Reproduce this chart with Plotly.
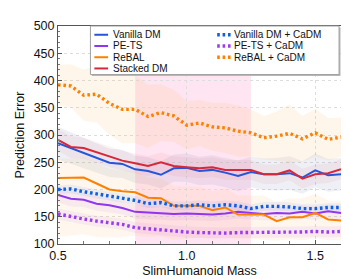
import plotly.graph_objects as go

# ---------------- data ----------------
mass = [0.5, 0.55, 0.6, 0.65, 0.7, 0.75, 0.8, 0.85, 0.9, 0.95, 1.0, 1.05,
        1.1, 1.15, 1.2, 1.25, 1.3, 1.35, 1.4, 1.45, 1.5, 1.55, 1.6]

vanilla_dm = [285, 276, 266, 257, 249, 247, 237, 234, 227, 239, 240, 234,
              236, 231, 225, 232, 228, 228, 230, 222, 235, 226, 228]
vanilla_dm_sd = [30, 29, 28, 27, 26, 26, 25, 25, 25, 25, 26, 26,
                 27, 27, 28, 28, 29, 30, 31, 30, 31, 30, 30]

pets = [190, 183, 181, 174, 171, 166, 159, 158, 157, 155, 156, 155,
        154, 156, 159, 157, 155, 157, 156, 159, 156, 160, 157]
pets_sd = [14, 14, 13, 13, 13, 12, 12, 12, 12, 12, 12, 12,
           12, 12, 12, 12, 12, 12, 12, 12, 12, 12, 12]

rebal = [221, 221, 222, 211, 200, 197, 195, 185, 184, 170, 170, 170,
         162, 167, 154, 154, 154, 142, 149, 149, 157, 145, 143]
rebal_hi = [36, 36, 37, 37, 38, 38, 38, 37, 36, 36, 35, 35,
            35, 35, 35, 35, 35, 35, 35, 35, 35, 35, 35]
rebal_lo = [108, 106, 104, 98, 88, 84, 80, 72, 70, 62, 60, 58,
            52, 55, 44, 44, 46, 36, 40, 42, 46, 38, 36]

stacked_dm = [291, 278, 276, 268, 260, 253, 248, 243, 250, 243, 241, 239,
              241, 236, 236, 236, 228, 228, 235, 220, 228, 230, 237]
stacked_dm_sd = [20, 20, 19, 19, 19, 18, 18, 18, 18, 18, 18, 18,
                 18, 18, 18, 18, 18, 18, 18, 18, 18, 18, 18]

vanilla_cadm = [200, 201, 196, 192, 188, 184, 180, 174, 176, 170, 170, 172,
                170, 172, 170, 165, 169, 169, 168, 165, 165, 167, 167]
vanilla_cadm_sd = [8, 8, 8, 8, 8, 8, 8, 8, 8, 8, 8, 8,
                   8, 8, 8, 8, 8, 8, 8, 8, 8, 8, 8]

pets_cadm = [155, 150, 146, 142, 139, 136, 130, 128, 125, 123, 122, 121,
             120, 120, 121, 121, 121, 121, 122, 122, 123, 122, 123]
pets_cadm_sd = [10, 10, 10, 10, 10, 10, 10, 10, 10, 10, 10, 10,
                10, 10, 10, 10, 10, 10, 10, 10, 10, 10, 10]

rebal_cadm = [392, 390, 373, 375, 358, 347, 347, 334, 341, 335, 318, 322,
              315, 313, 307, 304, 295, 298, 303, 293, 304, 292, 296]
rebal_cadm_sd = [37, 40, 47, 52, 58, 62, 62, 58, 52, 48, 44, 42,
                 44, 46, 47, 43, 40, 45, 53, 42, 44, 39, 36]

shift_range = [0.8, 1.25]

# ---------------- styles ----------------
FONT = "Arial, Liberation Sans, sans-serif"
series = [
    # name, values, upper offsets, lower offsets, line color, band color, dotted
    ("Vanilla DM", vanilla_dm, vanilla_dm_sd, vanilla_dm_sd, "#2456d9", "rgba(90,110,170,0.10)", False),
    ("PE-TS", pets, pets_sd, pets_sd, "#9035f0", "rgba(150,60,240,0.07)", False),
    ("ReBAL", rebal, rebal_hi, rebal_lo, "#ff8000", "rgba(255,170,60,0.09)", False),
    ("Stacked DM", stacked_dm, stacked_dm_sd, stacked_dm_sd, "#d62839", "rgba(214,40,57,0.06)", False),
    ("Vanilla DM + CaDM", vanilla_cadm, vanilla_cadm_sd, vanilla_cadm_sd, "#0f5ee6", "rgba(20,90,230,0.07)", True),
    ("PE-TS + CaDM", pets_cadm, pets_cadm_sd, pets_cadm_sd, "#9b3cf2", "rgba(150,60,240,0.07)", True),
    ("ReBAL + CaDM", rebal_cadm, rebal_cadm_sd, rebal_cadm_sd, "#ff8000", "rgba(255,185,90,0.12)", True),
]
DOT_DASH = "2.6px,2.8px"
DOT_W = 3.4

fig = go.Figure()

# confidence bands
for name, vals, hi, lo, col, band, dotted in series:
    upper = [v + h for v, h in zip(vals, hi)]
    lower = [v - l for v, l in zip(vals, lo)]
    fig.add_trace(go.Scatter(x=mass, y=upper, mode="lines", line=dict(width=0),
                             showlegend=False, hoverinfo="skip"))
    fig.add_trace(go.Scatter(x=mass, y=lower, mode="lines", line=dict(width=0),
                             fill="tonexty", fillcolor=band,
                             showlegend=False, hoverinfo="skip"))

# mean lines
for name, vals, hi, lo, col, band, dotted in series:
    if dotted:
        line = dict(color=col, width=DOT_W, dash=DOT_DASH)
    else:
        line = dict(color=col, width=2)
    fig.add_trace(go.Scatter(x=mass, y=vals, mode="lines", name=name, line=line,
                             showlegend=False))

# ---------------- layout ----------------
W, H = 349, 279
ML, MR, MT, MB = 45, 16, 11, 39
PW, PH = W - ML - MR, H - MT - MB


def px_x(p):
    return (p - ML) / PW


def px_y(p):
    return (H - MB - p) / PH


shapes = [
    dict(type="rect", xref="x", yref="paper", x0=shift_range[0], x1=shift_range[1],
         y0=0, y1=1, fillcolor="rgba(255,0,120,0.10)", line=dict(width=0), layer="below"),
]

# legend (two columns inside a common box)
box_l, box_r, box_t, box_b = 78, 331, 11, 62
shapes.append(dict(type="rect", xref="paper", yref="paper",
                   x0=px_x(box_l + 1.5), x1=px_x(box_r + 1.5),
                   y0=px_y(box_b + 1.5), y1=px_y(box_t + 1.5),
                   fillcolor="#b8b8b8", line=dict(width=0), layer="above"))
shapes.append(dict(type="rect", xref="paper", yref="paper",
                   x0=px_x(box_l), x1=px_x(box_r), y0=px_y(box_b), y1=px_y(box_t),
                   fillcolor="white", line=dict(color="#a0a0a0", width=1), layer="above"))

annotations = []
row0, row_gap = 20.2, 11.8
columns = [(82, 96, 99), (207, 221, 222)]
left_items = [s for s in series if not s[6]]
right_items = [s for s in series if s[6]]
for (s0, s1, tx), items in zip(columns, [left_items, right_items]):
    for i, (name, vals, hi, lo, col, band, dotted) in enumerate(items):
        yy = px_y(row0 + i * row_gap)
        if dotted:
            ln = dict(color=col, width=DOT_W, dash=DOT_DASH)
        else:
            ln = dict(color=col, width=2)
        shapes.append(dict(type="line", xref="paper", yref="paper",
                           x0=px_x(s0), x1=px_x(s1), y0=yy, y1=yy,
                           line=ln, layer="above"))
        annotations.append(dict(text=name, xref="paper", yref="paper",
                                x=px_x(tx), y=yy, xanchor="left", yanchor="middle",
                                showarrow=False, font=dict(family=FONT, size=10, color="#111")))

fig.update_layout(
    width=W, height=H,
    margin=dict(l=ML, r=MR, t=MT, b=MB, pad=0),
    paper_bgcolor="white", plot_bgcolor="white",
    font=dict(family=FONT, size=12.5, color="#111"),
    showlegend=False,
    shapes=shapes,
    annotations=annotations,
    xaxis=dict(
        range=[0.5, 1.6], tickvals=[0.5, 1.0, 1.5], ticktext=["0.5", "1.0", "1.5"],
        ticks="inside", ticklen=4, tickcolor="#555", tickwidth=1,
        minor=dict(dtick=0.1, tick0=0.5, ticks="inside", ticklen=3, tickcolor="#777", showgrid=False),
        showline=True, linecolor="#555", linewidth=1, mirror=True,
        showgrid=True, gridcolor="#dddddd", griddash="dot", gridwidth=1,
        zeroline=False,
        title=dict(text="SlimHumanoid Mass", font=dict(size=12.5), standoff=4),
        tickfont=dict(size=12.5),
    ),
    yaxis=dict(
        range=[100, 500], dtick=50, tick0=100,
        ticks="inside", ticklen=4, tickcolor="#555", tickwidth=1,
        minor=dict(dtick=10, tick0=100, ticks="inside", ticklen=2, tickcolor="#777", showgrid=False),
        showline=True, linecolor="#555", linewidth=1, mirror=True,
        showgrid=True, gridcolor="#dddddd", griddash="dot", gridwidth=1,
        zeroline=False,
        title=dict(text="Prediction Error", font=dict(size=12.5), standoff=6),
        tickfont=dict(size=12.5),
    ),
)

fig.write_html("out.html")
